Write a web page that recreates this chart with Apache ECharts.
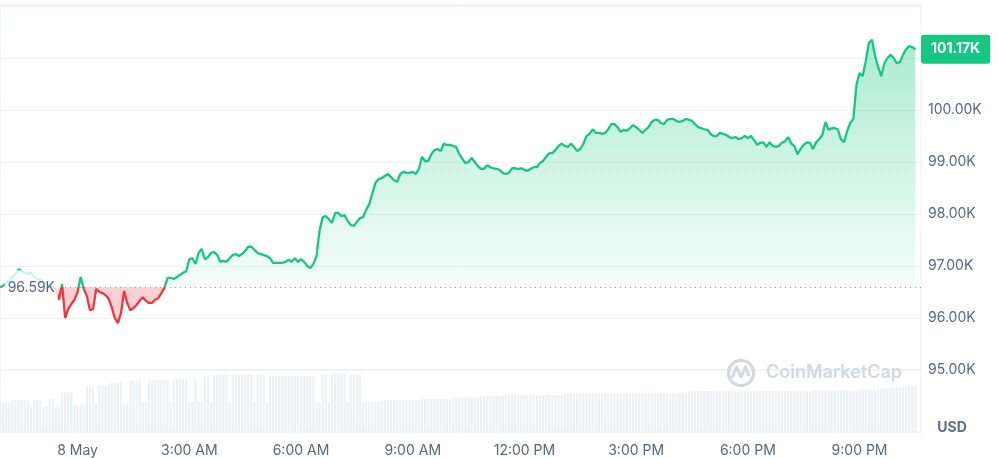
<!DOCTYPE html>
<html><head><meta charset="utf-8">
<script src="https://cdn.jsdelivr.net/npm/echarts@6/dist/echarts.min.js"></script>
<style>html,body{margin:0;padding:0;background:#fff}#c{width:998px;height:458px}</style>
</head><body><div id="c"></div>
<script>
// ---- data ----
// time is measured in minutes from midnight, 8 May
const startMinute = -125;   // 7 May 21:55
const stepMinutes = 5;
const axisRange = [-125, 1359]; // 7 May 21:55 .. 8 May 22:39
const baseline = 96.59;   // price 24h ago (K USD)
const lastPrice = 101.17;
const prices = [
 96.59,96.62,96.67,96.73,96.79,96.85,96.94,96.90,96.87,96.85,
 96.87,96.79,96.75,96.73,96.69,96.67,96.63,96.60,96.54,96.35,
 96.65,96.00,96.17,96.27,96.35,96.50,96.79,96.56,96.42,96.15,
 96.17,96.56,96.50,96.48,96.44,96.37,96.21,96.00,95.90,96.10,
 96.52,96.29,96.15,96.19,96.25,96.33,96.40,96.33,96.29,96.29,
 96.35,96.38,96.48,96.58,96.77,96.77,96.75,96.79,96.83,96.87,
 96.90,97.13,97.15,97.04,97.25,97.33,97.13,97.17,97.25,97.27,
 97.21,97.08,97.10,97.08,97.15,97.21,97.23,97.19,97.23,97.29,
 97.37,97.37,97.31,97.25,97.23,97.21,97.19,97.15,97.06,97.06,
 97.06,97.06,97.08,97.12,97.08,97.15,97.08,97.13,97.08,97.00,
 96.96,97.04,97.19,97.69,97.94,97.96,97.90,97.83,98.02,98.02,
 97.96,97.98,97.87,97.79,97.77,97.85,97.92,97.94,98.08,98.19,
 98.40,98.60,98.67,98.69,98.73,98.77,98.71,98.65,98.62,98.77,
 98.81,98.79,98.79,98.81,98.77,98.87,99.10,99.02,99.02,99.15,
 99.23,99.25,99.21,99.35,99.33,99.33,99.31,99.29,99.15,99.06,
 98.98,99.00,99.08,99.00,98.92,98.87,98.87,98.94,98.90,98.88,
 98.87,98.85,98.79,98.77,98.79,98.88,98.88,98.87,98.88,98.85,
 98.83,98.87,98.90,98.90,98.98,99.02,99.10,99.17,99.17,99.23,
 99.31,99.35,99.31,99.29,99.35,99.29,99.21,99.25,99.35,99.50,
 99.54,99.63,99.56,99.56,99.54,99.56,99.63,99.73,99.73,99.67,
 99.58,99.62,99.60,99.65,99.71,99.67,99.62,99.56,99.62,99.67,
 99.77,99.81,99.81,99.75,99.73,99.81,99.83,99.83,99.79,99.77,
 99.79,99.83,99.81,99.79,99.73,99.67,99.65,99.63,99.62,99.54,
 99.50,99.50,99.56,99.54,99.52,99.48,99.46,99.48,99.44,99.46,
 99.50,99.46,99.50,99.42,99.33,99.37,99.38,99.29,99.38,99.31,
 99.29,99.31,99.37,99.40,99.48,99.35,99.31,99.15,99.25,99.33,
 99.38,99.37,99.25,99.38,99.44,99.52,99.77,99.62,99.65,99.65,
 99.63,99.44,99.38,99.60,99.75,99.83,100.48,100.71,100.65,100.94,
 101.29,101.35,101.04,100.83,100.65,100.90,101.00,101.06,101.00,100.90,
 100.92,101.06,101.17,101.23,101.21,101.17
];
const volumes = [
 30,30,30,31,33,33,33,33,33,33,
 26,33,33,33,26,26,35,35,26,26,
 41,41,41,41,28,28,28,29,47,47,
 47,29,48,48,48,49,51,51,51,52,
 30,30,53,53,53,53,31,31,54,54,
 54,54,54,54,54,31,55,55,55,55,
 55,31,31,55,32,32,57,57,31,59,
 59,59,59,59,31,59,59,59,59,59,
 59,59,31,59,59,59,31,58,58,58,
 58,58,58,58,58,58,58,58,58,58,
 58,58,30,30,59,59,31,60,60,60,
 60,60,31,59,59,59,59,31,31,31,
 31,31,31,32,33,33,33,33,33,33,
 33,33,33,33,33,33,34,34,34,34,
 34,34,34,34,34,34,36,36,36,36,
 36,36,36,36,36,37,37,37,37,37,
 37,37,38,38,38,38,38,38,38,38,
 38,38,38,38,38,38,38,38,38,38,
 38,38,40,40,40,40,40,40,40,40,
 40,40,40,40,40,40,40,40,40,40,
 40,40,40,40,40,40,40,40,40,40,
 40,40,40,40,40,40,40,40,40,40,
 41,41,42,42,42,42,42,42,42,42,
 42,42,42,42,42,42,42,42,42,42,
 42,42,42,42,42,42,42,42,42,42,
 42,42,42,42,42,42,42,42,42,42,
 42,42,43,43,43,43,43,43,43,43,
 43,43,43,43,43,43,43,44,44,44,
 44,44,45,45,45,45,45,46,46,46,
 46,46,46,47,47,47
];
const tickMinutes = [0, 180, 360, 540, 720, 900, 1080, 1260];
const tickLabels = ['8 May','3:00 AM','6:00 AM','9:00 AM','12:00 PM','3:00 PM','6:00 PM','9:00 PM'];
const priceAxis = {min: 95, max: 102.02, interval: 1, hidden: [101, 102]};

// ---- build ----
const times = prices.map((_, i) => startMinute + i * stepMinutes);
const priceData = prices.map((v, i) => [times[i], v]);
const volData = volumes.map((v, i) => [times[i], v]);

const pMax = Math.max(...prices), pMin = Math.min(Math.min(...prices), baseline);
const f = (pMax - baseline) / (pMax - pMin);

const GREEN = '#16c784', RED = '#ea3943', GRAY = '#58667e', GRID = '#eff2f5';
const FONT = 'Inter, "Noto Sans", sans-serif';

const chart = echarts.init(document.getElementById('c'), null, {renderer: 'canvas'});
chart.setOption({
  animation: false,
  backgroundColor: '#fff',
  grid: [
    {left: 0, right: 77, top: 5, bottom: 88, show: true, borderColor: '#eceef1', borderWidth: 1, containLabel: false},
    {left: 0, right: 77, top: 370, bottom: 24, show: true, borderColor: '#eceef1', borderWidth: 1, containLabel: false}
  ],
  xAxis: [
    {type: 'value', gridIndex: 0, min: axisRange[0], max: axisRange[1], show: false},
    {type: 'value', gridIndex: 1, min: axisRange[0], max: axisRange[1],
     axisLine: {show: false}, axisTick: {show: false}, splitLine: {show: false},
     axisLabel: {customValues: tickMinutes, margin: 12, color: GRAY, fontSize: 14, fontFamily: FONT,
       formatter: v => { const k = tickMinutes.indexOf(Math.round(v)); return k >= 0 ? tickLabels[k] : ''; }}}
  ],
  yAxis: [
    {type: 'value', gridIndex: 0, position: 'right', min: priceAxis.min, max: priceAxis.max, interval: priceAxis.interval,
     axisLine: {show: false}, axisTick: {show: false},
     splitLine: {lineStyle: {color: GRID, width: 1}},
     axisLabel: {margin: 7, color: GRAY, fontSize: 14, fontFamily: FONT,
       formatter: v => priceAxis.hidden.includes(Math.round(v)) ? '' : v.toFixed(2) + 'K'}},
    {type: 'value', gridIndex: 1, min: 0, max: 64, show: false}
  ],
  visualMap: {type: 'piecewise', show: false, dimension: 1, seriesIndex: 1,
    pieces: [{gte: baseline, lte: 200, color: GREEN}, {gte: 0, lt: baseline, color: RED}]},
  series: [
    {type: 'line', xAxisIndex: 0, yAxisIndex: 0, data: priceData, showSymbol: false, silent: true,
     lineStyle: {width: 0}, z: 1,
     areaStyle: {origin: baseline, opacity: 1, color: {type: 'linear', x: 0, y: 0, x2: 0, y2: 1, colorStops: [
       {offset: 0, color: 'rgba(22,199,132,0.36)'},
       {offset: f, color: 'rgba(22,199,132,0.04)'},
       {offset: f, color: 'rgba(234,57,67,0.24)'},
       {offset: 1, color: 'rgba(234,57,67,0.24)'}]}}},
    {type: 'line', xAxisIndex: 0, yAxisIndex: 0, data: priceData, showSymbol: false, silent: true, z: 3,
     clip: false,
     lineStyle: {width: 2.3},
     markLine: {silent: true, symbol: 'none', animation: false,
       data: [
         {yAxis: baseline, lineStyle: {type: [1, 4], color: '#9aa3b5', width: 1},
          label: {show: true, position: 'start', distance: -58, formatter: baseline.toFixed(2) + 'K',
                  color: GRAY, fontSize: 14, fontFamily: FONT,
                  backgroundColor: 'rgba(255,255,255,0.78)', padding: [10, 3]}},
         {yAxis: lastPrice, lineStyle: {width: 0.01, color: 'rgba(0,0,0,0)'},
          label: {show: true, position: 'end', distance: 0, formatter: lastPrice.toFixed(2) + 'K',
                  color: '#fff', fontWeight: 'bold', fontSize: 14, fontFamily: FONT,
                  backgroundColor: GREEN, borderRadius: 3, padding: [8, 10, 7, 10]}}
       ]}},
    {type: 'bar', xAxisIndex: 1, yAxisIndex: 1, data: volData, barWidth: 2.2, silent: true,
     itemStyle: {color: '#eef1f4'}, z: 1}
  ],
  graphic: [
    {type: 'circle', shape: {cx: 741, cy: 373, r: 12.5}, style: {fill: 'none', stroke: '#d3d8df', lineWidth: 3.2}, z: 5},
    {type: 'polyline', shape: {points: [[732, 378], [736.5, 367], [741, 377], [745.5, 367], [749, 376]]},
     style: {fill: 'none', stroke: '#d3d8df', lineWidth: 3, lineJoin: 'round'}, z: 5},
    {type: 'text', x: 766, y: 373, style: {text: 'CoinMarketCap', fill: '#d3d8df', font: '600 18px Inter', verticalAlign: 'middle'}, z: 5},
    {type: 'text', x: 952, y: 428, style: {text: 'USD', fill: '#616e85', font: 'bold 14px Inter', align: 'center', verticalAlign: 'middle'}, z: 5}
  ]
});
</script></body></html>
